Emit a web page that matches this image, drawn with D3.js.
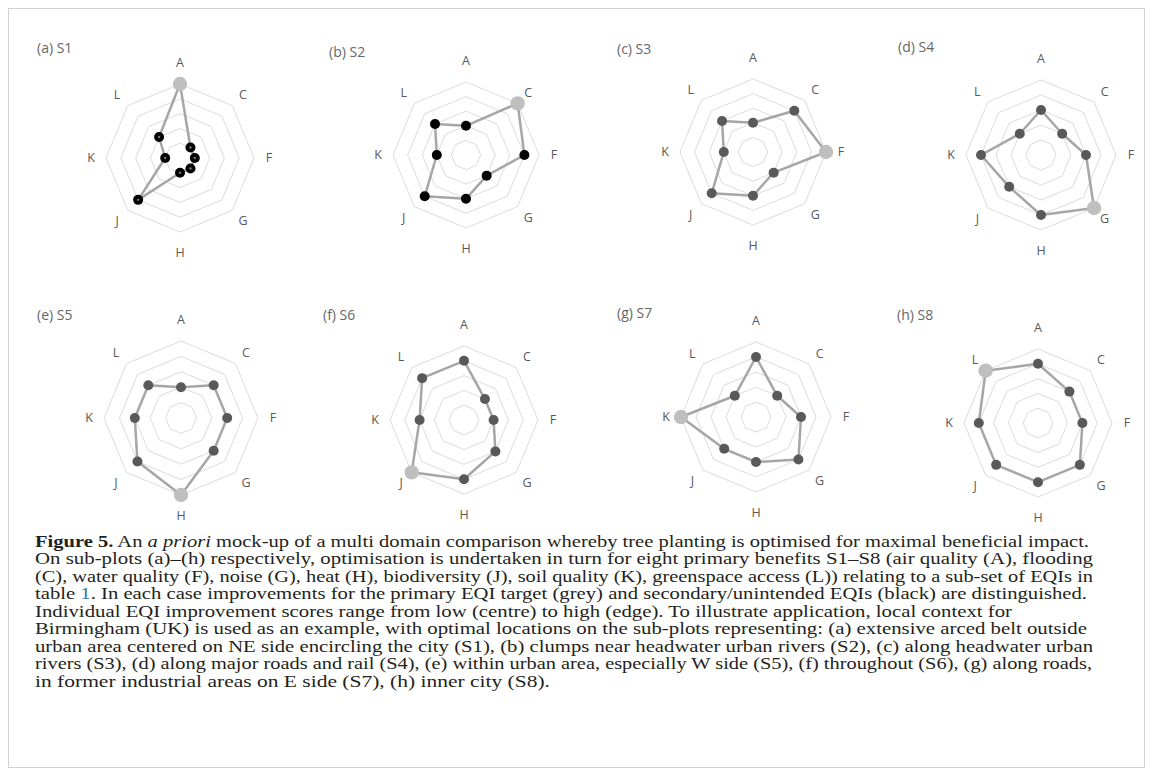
<!DOCTYPE html>
<html>
<head>
    <title>Figure 5 radar panels</title>
    <style>
        body { margin: 0; background: #fff; }
        svg { display: block; }
    </style>
</head>
<body>
    <svg id="fig" width="1153" height="776"></svg>

    <script src="https://d3js.org/d3.v7.min.js"></script>
    <script>
        // EQI axes, clockwise from the top
        const axes = ["A", "C", "F", "G", "H", "J", "K", "L"];
        const levels = [1, 2, 3, 4, 5];

        const titles = ["(a) S1", "(b) S2", "(c) S3", "(d) S4", "(e) S5", "(f) S6", "(g) S7", "(h) S8"];

        // scores per axis (A, C, F, G, H, J, K, L), 0 = centre, 5 = edge
        const s1 = [5, 1, 1, 1, 1, 4, 1, 2];
        const s2 = [2, 5, 4, 2, 3, 4, 2, 3];
        const s3 = [2, 4, 5, 2, 3, 4, 2, 3];
        const s4 = [3, 2, 3, 5, 4, 3, 4, 2];
        const s5 = [2, 3, 3, 3, 5, 4, 3, 3];
        const s6 = [4, 2, 2, 3, 4, 5, 3, 4];
        const s7 = [4, 2, 3, 4, 3, 3, 5, 2];
        const s8 = [4, 3, 3, 4, 4, 4, 4, 5];
        const scores = [s1, s2, s3, s4, s5, s6, s7, s8];

        // primary EQI target of each panel
        const primary = ["A", "C", "F", "G", "H", "J", "K", "L"];

        // panel placement (centre, radius, title position)
        const panels = [
            { cx: 180, cy: 158, r: 74, tx: 37, ty: 48 },
            { cx: 466, cy: 155, r: 73, tx: 329, ty: 52 },
            { cx: 753, cy: 152, r: 73, tx: 617, ty: 49 },
            { cx: 1041, cy: 155, r: 75, tx: 898, ty: 47 },
            { cx: 181, cy: 418, r: 77, tx: 37, ty: 315 },
            { cx: 464, cy: 420, r: 74, tx: 323, ty: 315 },
            { cx: 756, cy: 417, r: 75, tx: 617, ty: 313 },
            { cx: 1038, cy: 423, r: 74, tx: 897, ty: 315 }
        ];
        const dotColor = ["#000", "#000", "#595959", "#595959", "#595959", "#595959", "#595959", "#595959"];

        const svg = d3.select("#fig");

        svg.append("rect")
            .attr("x", 8.5).attr("y", 8.5)
            .attr("width", 1136).attr("height", 759)
            .attr("fill", "none")
            .attr("stroke", "#d0d0d0");

        const angle = d3.scaleLinear().domain([0, axes.length]).range([0, 2 * Math.PI]);

        panels.forEach((p, k) => {
            const r = d3.scaleLinear().domain([0, 5]).range([0, p.r]);
            const g = svg.append("g").attr("transform", `translate(${p.cx},${p.cy})`);

            const ring = d3.lineRadial()
                .angle((d, i) => angle(i))
                .radius(d => r(d))
                .curve(d3.curveLinearClosed);

            // grid octagons
            g.selectAll("path.ring")
                .data(levels)
                .join("path")
                .attr("class", "ring")
                .attr("d", lv => ring(axes.map(() => lv)))
                .attr("fill", "none")
                .attr("stroke", "#dcdcdc")
                .attr("stroke-width", 1);

            // axis labels
            g.selectAll("text.axis")
                .data(axes)
                .join("text")
                .attr("class", "axis")
                .attr("x", (d, i) => (p.r + 15) * Math.sin(angle(i)))
                .attr("y", (d, i) => -(p.r + 15) * Math.cos(angle(i)) + (d === "A" ? -6 : d === "H" ? 6 : 0))
                .attr("dy", "0.35em")
                .attr("text-anchor", "middle")
                .attr("font-family", "'Open Sans', sans-serif")
                .attr("font-size", "12.5px")
                .attr("fill", "#595959")
                .text(d => d);

            // series line
            g.append("path")
                .attr("d", ring(scores[k]))
                .attr("fill", "none")
                .attr("stroke", "#a6a6a6")
                .attr("stroke-width", 2.5)
                .attr("stroke-linejoin", "round");

            // points
            const pts = scores[k].map((v, i) => ({ axis: axes[i], v: v, i: i }));
            g.selectAll("circle.pt")
                .data(pts)
                .join("circle")
                .attr("class", "pt")
                .attr("cx", d => r(d.v) * Math.sin(angle(d.i)))
                .attr("cy", d => -r(d.v) * Math.cos(angle(d.i)))
                .attr("r", d => d.axis === primary[k] ? 7.2 : 5)
                .attr("fill", d => d.axis === primary[k] ? "#bfbfbf" : dotColor[k]);

            if (k === 0) {
                g.selectAll("circle.core")
                    .data(pts.filter(d => d.axis !== primary[k]))
                    .join("circle")
                    .attr("class", "core")
                    .attr("cx", d => r(d.v) * Math.sin(angle(d.i)))
                    .attr("cy", d => -r(d.v) * Math.cos(angle(d.i)))
                    .attr("r", 1.2)
                    .attr("fill", "#777");
            }

            svg.append("text")
                .attr("x", p.tx)
                .attr("y", p.ty)
                .attr("dy", "0.35em")
                .attr("font-family", "'Open Sans', sans-serif")
                .attr("font-size", "14px")
                .attr("fill", "#666")
                .text(titles[k]);
        });

        // caption, one entry per printed line with its right end
        const caption = [
            { end: 1089, parts: [["Figure 5.", "b"], [" An ", ""], ["a priori", "i"], [" mock-up of a multi domain comparison whereby tree planting is optimised for maximal beneficial impact.", ""]] },
            { end: 1093, parts: [["On sub-plots (a)–(h) respectively, optimisation is undertaken in turn for eight primary benefits S1–S8 (air quality (A), flooding", ""]] },
            { end: 1093, parts: [["(C), water quality (F), noise (G), heat (H), biodiversity (J), soil quality (K), greenspace access (L)) relating to a sub-set of EQIs in", ""]] },
            { end: 1087, parts: [["table ", ""], ["1", "link"], [". In each case improvements for the primary EQI target (grey) and secondary/unintended EQIs (black) are distinguished.", ""]] },
            { end: 1012, parts: [["Individual EQI improvement scores range from low (centre) to high (edge). To illustrate application, local context for", ""]] },
            { end: 1087, parts: [["Birmingham (UK) is used as an example, with optimal locations on the sub-plots representing: (a) extensive arced belt outside", ""]] },
            { end: 1093, parts: [["urban area centered on NE side encircling the city (S1), (b) clumps near headwater urban rivers (S2), (c) along headwater urban", ""]] },
            { end: 1092, parts: [["rivers (S3), (d) along major roads and rail (S4), (e) within urban area, especially W side (S5), (f) throughout (S6), (g) along roads,", ""]] },
            { end: 550, parts: [["in former industrial areas on E side (S7), (h) inner city (S8).", ""]] }
        ];
        const capX = 35, capY = 541, lineH = 17.5;

        caption.forEach((line, j) => {
            const t = svg.append("text")
                .attr("x", capX)
                .attr("y", capY + j * lineH)
                .attr("dy", "0.35em")
                .attr("font-family", "'Liberation Serif', serif")
                .attr("font-size", "17px")
                .attr("fill", "#231f20")
                .attr("textLength", line.end - capX)
                .attr("lengthAdjust", "spacingAndGlyphs");
            line.parts.forEach(([s, st]) => {
                t.append("tspan")
                    .attr("font-weight", st === "b" ? "bold" : null)
                    .attr("font-style", st === "i" ? "italic" : null)
                    .attr("fill", st === "link" ? "#2a7ab0" : null)
                    .text(s);
            });
        });
    </script>
</body>
</html>
